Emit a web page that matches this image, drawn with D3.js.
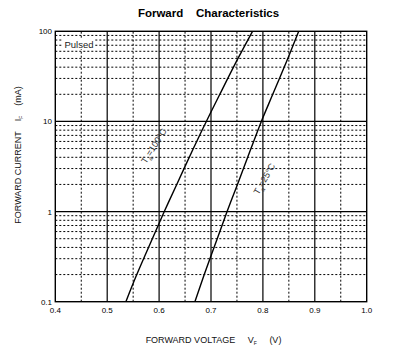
<!DOCTYPE html>
<html><head><meta charset="utf-8">
<script src="https://cdn.jsdelivr.net/npm/d3@7"></script>
<style>body{margin:0;background:#fff}svg{display:block}text{font-family:"Liberation Sans",Arial,sans-serif;white-space:pre}</style>
</head><body>
<script>
const currents = [0.1, 0.2, 0.5, 1, 2, 5, 10, 20, 50, 100];
const v100 = [0.536, 0.557, 0.587, 0.610, 0.634, 0.666, 0.691, 0.717, 0.752, 0.780];
const v25  = [0.669, 0.687, 0.712, 0.731, 0.751, 0.777, 0.797, 0.819, 0.848, 0.869];
const xTicks = [0.4, 0.5, 0.6, 0.7, 0.8, 0.9, 1.0];
const xMinor = [0.45, 0.55, 0.65, 0.75, 0.85, 0.95];
const yTicks = [0.1, 1, 10, 100];
const yTickLabels = ["0.1", "1", "10", "100"];

const W = 397, H = 358;
const svg = d3.select("body").append("svg").attr("width", W).attr("height", H);
const x = d3.scaleLinear().domain([0.4, 1.0]).range([55.3, 366.7]);
const y = d3.scaleLog().domain([0.1, 100]).range([301.7, 31.3]);

const g = svg.append("g");
// minor horizontal grid
const yMinor = [];
[0.1, 1, 10].forEach(d => { for (let k = 2; k <= 9; k++) yMinor.push(d * k); });
g.selectAll(".hm").data(yMinor).join("line")
  .attr("x1", x(0.4)).attr("x2", x(1.0))
  .attr("y1", d => y(d)).attr("y2", d => y(d))
  .attr("stroke", "#000").attr("stroke-width", 1).attr("stroke-dasharray", "2,2");
g.selectAll(".vm").data(xMinor).join("line")
  .attr("y1", y(0.1)).attr("y2", y(100))
  .attr("x1", d => x(d)).attr("x2", d => x(d))
  .attr("stroke", "#000").attr("stroke-width", 1).attr("stroke-dasharray", "2,2");
// major grid
g.selectAll(".hM").data([1, 10]).join("line")
  .attr("x1", x(0.4)).attr("x2", x(1.0))
  .attr("y1", d => y(d)).attr("y2", d => y(d))
  .attr("stroke", "#000").attr("stroke-width", 1.2);
g.selectAll(".vM").data([0.5, 0.6, 0.7, 0.8, 0.9]).join("line")
  .attr("y1", y(0.1)).attr("y2", y(100))
  .attr("x1", d => x(d)).attr("x2", d => x(d))
  .attr("stroke", "#000").attr("stroke-width", 1.2);
// frame
g.append("rect").attr("x", x(0.4)).attr("y", y(100))
  .attr("width", x(1.0) - x(0.4)).attr("height", y(0.1) - y(100))
  .attr("fill", "none").attr("stroke", "#000").attr("stroke-width", 1.4);

// Pulsed label
g.append("rect").attr("x", 63).attr("y", 39).attr("width", 32).attr("height", 10).attr("fill", "#fff");
g.append("text").attr("x", 64.5).attr("y", 47.5).attr("font-size", 9.5).attr("fill", "#222").text("Pulsed");

// curves
const line = d3.line().curve(d3.curveCatmullRom).x(d => x(d[0])).y(d => y(d[1]));
[v100, v25].forEach(vs => {
  g.append("path").datum(vs.map((v, i) => [v, currents[i]]))
    .attr("d", line).attr("fill", "none").attr("stroke", "#000").attr("stroke-width", 1.4);
});

// curve labels
function curveLabel(cx, cy, ang, temp) {
  const t = g.append("text").attr("transform", `translate(${cx},${cy}) rotate(${ang})`)
    .attr("text-anchor", "middle").attr("font-size", 9).attr("fill", "#333");
  t.append("tspan").text("T");
  t.append("tspan").attr("font-size", 6).attr("dy", 3).text("a");
  t.append("tspan").attr("dy", -3).text("=" + temp + "°C");
}
curveLabel(156.5, 147.5, -58, "100");
curveLabel(267, 180.5, -60, "25");

// y tick labels
g.selectAll(".yl").data(yTicks).join("text")
  .attr("x", 52).attr("y", d => y(d) + 3).attr("text-anchor", "end")
  .attr("font-size", 8).attr("fill", "#000").text((d, i) => yTickLabels[i]);
// x tick labels
g.selectAll(".xl").data(xTicks).join("text")
  .attr("x", d => x(d)).attr("y", 312.5).attr("text-anchor", "middle")
  .attr("font-size", 8).attr("fill", "#000").text(d => d.toFixed(1));

// title
svg.append("text").attr("x", 208.5).attr("y", 17).attr("text-anchor", "middle")
  .attr("font-size", 11.5).attr("font-weight", "bold").text("Forward    Characteristics");

// x axis label
const xl = svg.append("text").attr("x", 213.5).attr("y", 343).attr("text-anchor", "middle")
  .attr("font-size", 9).attr("fill", "#111");
xl.append("tspan").text("FORWARD VOLTAGE     V");
xl.append("tspan").attr("font-size", 5).attr("dy", 2).text("F");
xl.append("tspan").attr("dy", -2).text("     (V)");

// y axis label
const yl = svg.append("text").attr("transform", "translate(20.5,155) rotate(-90)")
  .attr("text-anchor", "middle").attr("font-size", 9).attr("fill", "#111");
yl.append("tspan").text("FORWARD CURRENT    I");
yl.append("tspan").attr("font-size", 5).attr("dy", 2).text("F");
yl.append("tspan").attr("dy", -2).text("    (mA)");
</script>
</body></html>
